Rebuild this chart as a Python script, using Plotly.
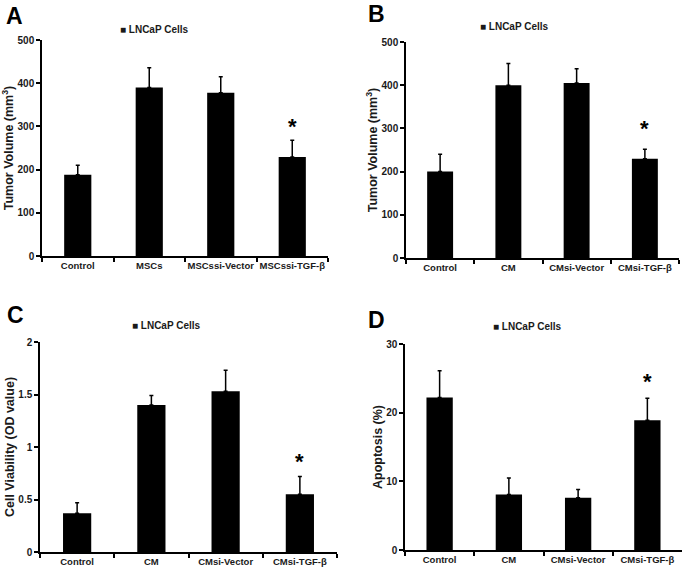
import plotly.graph_objects as go

# ---- data ----
cats_A = ["Control", "MSCs", "MSCssi-Vector", "MSCssi-TGF-β"]
vals_A = [188, 390, 378, 229]
err_A = [22, 46, 37, 39]

cats_B = ["Control", "CM", "CMsi-Vector", "CMsi-TGF-β"]
vals_B = [200, 400, 405, 230]
err_B = [40, 50, 33, 22]

cats_C = ["Control", "CM", "CMsi-Vector", "CMsi-TGF-β"]
vals_C = [0.37, 1.40, 1.53, 0.55]
err_C = [0.10, 0.09, 0.20, 0.17]

cats_D = ["Control", "CM", "CMsi-Vector", "CMsi-TGF-β"]
vals_D = [22.2, 8.1, 7.6, 18.9]
err_D = [3.9, 2.4, 1.2, 3.2]

series_name = "LNCaP Cells"
star_pos = [300, 300, 0.86, 24.6]

W, H = 685, 572
def px_x(p):
    return p / W
def px_y(p):
    return 1 - p / H

panels = [
    dict(cats=cats_A, vals=vals_A, err=err_A, rng=[0, 500], dt=100,
         title="Tumor Volume (mm<sup>3</sup>)", xd=[42, 328], yd=[256, 40],
         letter="A", lpos=(14, 16), leg=(118, 29)),
    dict(cats=cats_B, vals=vals_B, err=err_B, rng=[0, 500], dt=100,
         title="Tumor Volume (mm<sup>3</sup>)", xd=[406, 679], yd=[258, 42],
         letter="B", lpos=(376, 14), leg=(478, 27)),
    dict(cats=cats_C, vals=vals_C, err=err_C, rng=[0, 2], dt=0.5,
         title="Cell Viability (OD value)", xd=[40, 337], yd=[552, 342],
         letter="C", lpos=(15, 315), leg=(130, 325)),
    dict(cats=cats_D, vals=vals_D, err=err_D, rng=[0, 30], dt=10,
         title="Apoptosis (%)", xd=[405, 682], yd=[550, 344],
         letter="D", lpos=(376, 320), leg=(491, 326)),
]

fig = go.Figure()
ytickfont = dict(family="Liberation Sans", size=10, color="#1a1a1a", weight="bold")
xtickfont = dict(family="Liberation Sans", size=9.5, color="#1a1a1a", weight="bold")
annotations = []
layout = {}
for i, p in enumerate(panels):
    n = "" if i == 0 else str(i + 1)
    xa, ya = "x" + n, "y" + n
    fig.add_trace(go.Bar(
        x=p["cats"], y=p["vals"], xaxis=xa, yaxis=ya, width=0.38,
        marker=dict(color="black", line=dict(width=0)),
        error_y=dict(type="data", array=p["err"], arrayminus=[0] * 4,
                     symmetric=False, color="black", thickness=1.5, width=2),
        name=series_name, showlegend=False))
    layout["xaxis" + n] = dict(
        domain=[px_x(p["xd"][0]), px_x(p["xd"][1])], anchor=ya,
        showline=True, linecolor="black", linewidth=1.5, tickangle=0,
        automargin=False,
        ticks="outside", tickson="boundaries", ticklen=4, tickcolor="black",
        tickwidth=1.5, tickfont=xtickfont, showgrid=False, fixedrange=True)
    layout["yaxis" + n] = dict(
        domain=[px_y(p["yd"][0]), px_y(p["yd"][1])], anchor=xa,
        range=p["rng"], dtick=p["dt"], showline=True, linecolor="black",
        linewidth=1.5, ticks="outside", ticklen=4, tickcolor="black",
        automargin=False, fixedrange=True,
        tickwidth=1.5, tickfont=ytickfont, showgrid=False, zeroline=False,
        title=dict(text=p["title"], standoff=1,
                   font=dict(family="Liberation Sans", size=12.5,
                             color="#1a1a1a", weight="bold")))
    annotations.append(dict(x=p["cats"][3], y=star_pos[i], xref=xa, yref=ya,
                            text="*", showarrow=False,
                            font=dict(family="Liberation Sans", size=22,
                                      color="black", weight="bold")))
    annotations.append(dict(x=px_x(p["lpos"][0]), y=px_y(p["lpos"][1]),
                            xref="paper", yref="paper", text=p["letter"],
                            showarrow=False, xanchor="center", yanchor="middle",
                            font=dict(family="Liberation Sans", size=23,
                                      color="black", weight="bold")))
    annotations.append(dict(x=px_x(p["leg"][0]), y=px_y(p["leg"][1]),
                            xref="paper", yref="paper",
                            text="■ " + series_name, showarrow=False,
                            xanchor="left", yanchor="middle",
                            font=dict(family="Liberation Sans", size=10,
                                      color="#1a1a1a", weight="bold")))

fig.update_layout(**layout)
fig.update_layout(width=W, height=H, margin=dict(l=0, r=0, t=0, b=0),
                  paper_bgcolor="white", plot_bgcolor="white",
                  annotations=annotations, showlegend=False)
fig.write_html("out.html", config={"displayModeBar": False})

# remove default page margin so the figure sits at the window's top-left
with open("out.html", "r", encoding="utf-8") as f:
    html = f.read()
html = html.replace("<head>", "<head><style>html,body{margin:0;padding:0;overflow:hidden}</style>", 1)
with open("out.html", "w", encoding="utf-8") as f:
    f.write(html)
